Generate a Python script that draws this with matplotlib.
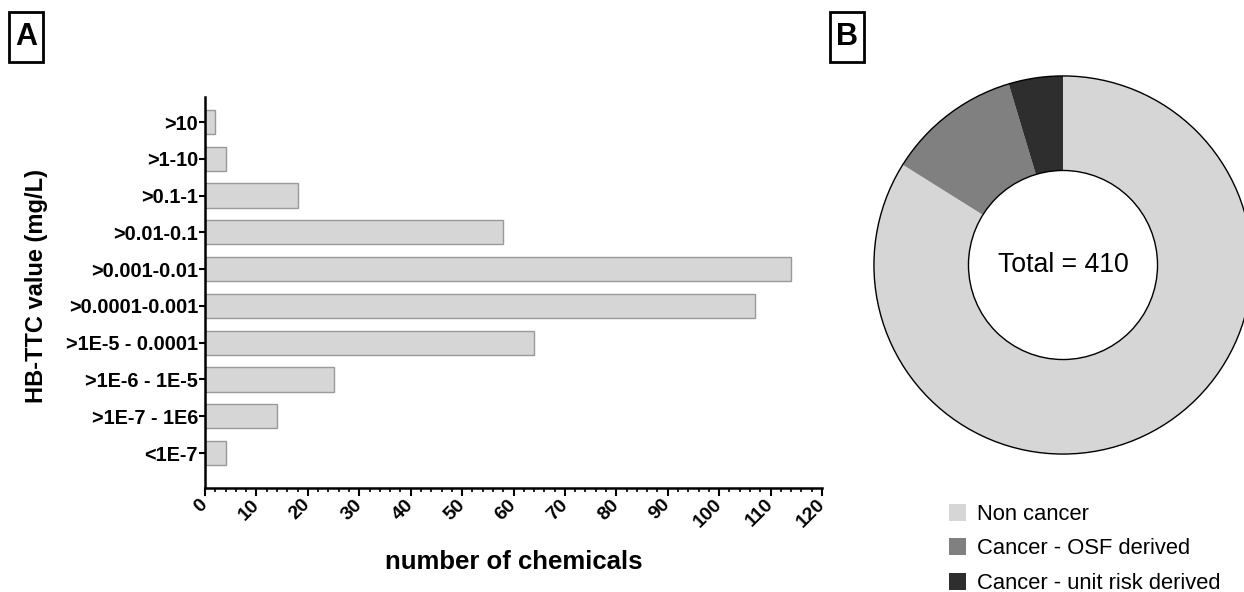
import numpy as np
import matplotlib
matplotlib.use('Agg')
import matplotlib.pyplot as plt
import matplotlib.transforms as mtransforms
from matplotlib.patches import Rectangle

plt.rcParams['font.family'] = ['Liberation Sans', 'DejaVu Sans']

###############################################################################
## data
###############################################################################

# bar chart (panel A), listed from bottom to top
ttc_bins = ['<1E-7', '>1E-7 - 1E6', '>1E-6 - 1E-5', '>1E-5 - 0.0001',
            '>0.0001-0.001', '>0.001-0.01', '>0.01-0.1', '>0.1-1',
            '>1-10', '>10']
n_chemicals = [4, 14, 25, 64, 107, 114, 58, 18, 4, 2]

# donut (panel B)
groups = ['Non cancer', 'Cancer - OSF derived', 'Cancer - unit risk derived']
group_counts = [344, 47, 19]
group_colors = ['#d6d6d6', '#808080', '#2e2e2e']

###############################################################################
## figure
###############################################################################

W, H = 1244.0, 592.0
fig = plt.figure(figsize=(W / 100, H / 100), dpi=100)

# panel A
ax = fig.add_axes([205 / W, 1 - 488 / H, 617 / W, 391 / H])
ypos = np.arange(len(ttc_bins))
ax.barh(ypos, n_chemicals, height=0.66, color='#d6d6d6',
        edgecolor='#999999', linewidth=1.0)
ax.set_xlim(0, 120)
ax.set_ylim(-0.95, len(ttc_bins) - 1 + 0.68)
ax.set_yticks(ypos)
ax.set_yticklabels(ttc_bins, fontsize=14.3, fontweight='bold')
ax.set_xticks(np.arange(0, 121, 10))
ax.set_xticks(np.arange(0, 121, 2), minor=True)
ax.set_xticklabels([str(v) for v in range(0, 121, 10)], rotation=45,
                   ha='right', va='center', rotation_mode='anchor',
                   fontsize=14, fontweight='bold')
# nudge rotated labels a little to the right
shift = mtransforms.ScaledTranslation(4 / 100, 0, fig.dpi_scale_trans)
for lab in ax.get_xticklabels():
    lab.set_transform(lab.get_transform() + shift)
ax.tick_params(axis='x', which='major', length=5.5, width=1.5, pad=4.6)
ax.tick_params(axis='x', which='minor', length=3, width=1.2)
ax.tick_params(axis='y', length=4, width=1.5, pad=1)
for s in ['top', 'right']:
    ax.spines[s].set_visible(False)
for s in ['left', 'bottom']:
    ax.spines[s].set_linewidth(1.8)
ax.set_xlabel('number of chemicals', fontsize=18.5, fontweight='bold', labelpad=14)
ax.set_ylabel('HB-TTC value (mg/L)', fontsize=17, fontweight='bold')
ax.yaxis.set_label_coords(-0.255, 0.517)

# panel B
ax2 = fig.add_axes([873 / W, 1 - 455 / H, 380 / W, 380 / H])
ax2.pie(group_counts, colors=group_colors, startangle=90, counterclock=False,
        radius=1.0, wedgeprops=dict(width=0.5, edgecolor='none'))
ax2.add_patch(plt.Circle((0, 0), 1.0, fill=False, edgecolor='black', linewidth=1.0))
ax2.add_patch(plt.Circle((0, 0), 0.5, fill=False, edgecolor='black', linewidth=1.0))
ax2.text(0, 0, 'Total = %d' % sum(group_counts), ha='center', va='center',
         fontsize=19.2)
ax2.set_xlim(-1.005, 1.005)
ax2.set_ylim(-1.005, 1.005)
ax2.set_aspect('equal')
ax2.axis('off')

# legend under the donut
for i, (name, col) in enumerate(zip(groups, group_colors)):
    yc = 512 + 34.5 * i
    fig.patches.append(Rectangle((949 / W, 1 - (yc + 8.5) / H), 17 / W, 17 / H,
                                 transform=fig.transFigure, facecolor=col,
                                 edgecolor='none'))
    fig.text(977 / W, 1 - yc / H, name, fontsize=15.8, ha='left',
             va='center_baseline')

# panel letters
for lbl, x0 in [('A', 9), ('B', 830)]:
    fig.patches.append(Rectangle((x0 / W, 1 - 62 / H), 34 / W, 50 / H,
                                 transform=fig.transFigure, facecolor='white',
                                 edgecolor='black', linewidth=2.0))
    fig.text((x0 + 17) / W, 1 - 37 / H, lbl, fontsize=22, fontweight='bold',
             ha='center', va='center')

fig.savefig('out.png', dpi=100)
